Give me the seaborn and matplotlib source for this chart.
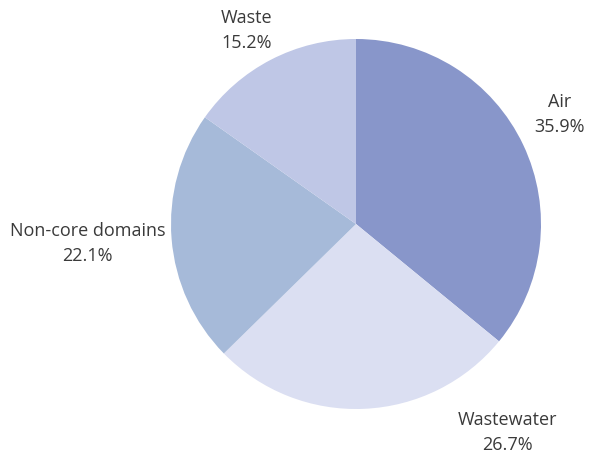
import matplotlib
matplotlib.use("Agg")
import matplotlib.pyplot as plt
import seaborn as sns

# Share of total by domain (%)
categories = ["Air", "Wastewater", "Non-core domains", "Waste"]
shares = [35.9, 26.7, 22.1, 15.2]
slice_colors = ["#8896CA", "#DBDFF2", "#A6BAD9", "#BFC7E6"]

# Label anchor points, in units of the pie radius
label_x = [1.10, 0.82, -1.45, -0.59]
label_y = [0.595, -1.12, -0.10, 1.05]

sns.set_theme(style="white")
plt.rcParams["font.family"] = ["Open Sans", "DejaVu Sans"]

fig = plt.figure(figsize=(5.89, 4.56), dpi=100)
ax = fig.add_axes([0, 0, 1, 1])

ax.pie(
    shares,
    colors=slice_colors,
    startangle=90,
    counterclock=False,
    radius=1.0,
    wedgeprops=dict(linewidth=0),
)

for name, val, x, y in zip(categories, shares, label_x, label_y):
    ax.text(x, y, f"{name}\n{val:.1f}%", ha="center", va="center",
            fontsize=13, color="#3a3a3a", linespacing=1.5)

ax.set_xlim(-356 / 185, (589 - 356) / 185)
ax.set_ylim(-(456 - 225) / 185, 225 / 185)
ax.set_aspect("auto")
ax.axis("off")

fig.savefig("out.png", dpi=100, facecolor="white")
